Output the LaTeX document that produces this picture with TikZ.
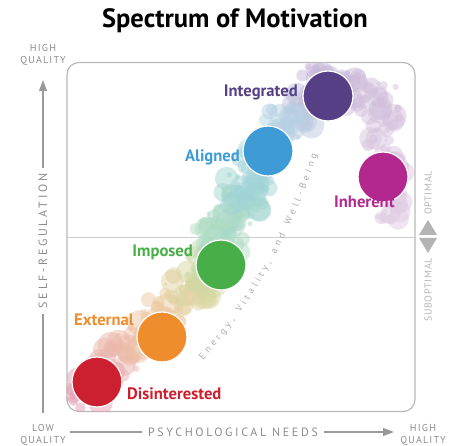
\documentclass[tikz,border=0pt]{standalone}
\usepackage{fontspec}
\setmainfont{PT Sans}
\newfontfamily\axisfont{PT Sans}[LetterSpace=22]
\newfontfamily\qualfont{PT Sans}[LetterSpace=12]
\newfontfamily\optfont{PT Sans}[LetterSpace=7]
\usetikzlibrary{positioning,arrows.meta,decorations.text}

\definecolor{intcol}{HTML}{573F85}
\definecolor{alicol}{HTML}{3E9BD5}
\definecolor{inhcol}{HTML}{B3288F}
\definecolor{impcol}{HTML}{48AE48}
\definecolor{extcol}{HTML}{EF8C2C}
\definecolor{discol}{HTML}{CC1F2F}
\definecolor{bubpink}{HTML}{E596B3}
\definecolor{bubrose}{HTML}{EBB5AE}
\definecolor{bubpeach}{HTML}{EFC9A2}
\definecolor{bubkhaki}{HTML}{D8D8A0}
\definecolor{bubmint}{HTML}{B6DFC0}
\definecolor{bubteal}{HTML}{9ED4D2}
\definecolor{bubsky}{HTML}{B2D8E6}
\definecolor{bublav}{HTML}{C8B8DA}
\definecolor{bubplum}{HTML}{D4C0DC}
\definecolor{bubplumb}{HTML}{DFCCE3}
\definecolor{framegray}{HTML}{B8B8B8}
\definecolor{axisgray}{HTML}{9A9A9A}
\definecolor{textgray}{HTML}{8C8C8C}
\definecolor{optgray}{HTML}{B4B4B4}
\definecolor{curvegray}{HTML}{ABABAB}

\begin{document}
\begin{tikzpicture}[x=1pt,y=-1pt,
  stage/.style={circle,draw=white,line width=1.2pt,minimum size=50pt,inner sep=0pt},
  stagelabel/.style={font=\bfseries\fontsize{16.6}{16.6}\selectfont,inner sep=0pt},
  axislabel/.style={font=\axisfont\fontsize{12}{12}\selectfont,text=textgray,inner ysep=0pt,inner xsep=6pt},
  quality/.style={font=\qualfont\fontsize{10}{12}\selectfont,text=textgray,align=center,inner sep=0pt},
  optlabel/.style={font=\optfont\fontsize{10}{10}\selectfont,text=optgray,inner sep=0pt},
  axisline/.style={draw=axisgray,line width=1.1pt},
  bubble/.style={fill opacity=0.5}]
  \useasboundingbox (0,0) rectangle (460,446);

  \node (title) [font=\bfseries\fontsize{26.5}{26.5}\selectfont] at (235,21) {Spectrum of Motivation};

  \node (frame) [draw=framegray,line width=1.2pt,rounded corners=12pt,
    minimum width=348pt,minimum height=349pt] at (241,237) {};
  \draw[draw=framegray!70,line width=0.8pt] (frame.west) -- (frame.east);

  % bubble cloud
  \pgfmathsetseed{11}
  \begin{scope}
    \clip[rounded corners=12pt] (frame.south west) rectangle (frame.north east);
    \foreach \xa/\ya/\xb/\yb/\ca/\cb/\nb/\sp in {
      74/400/120/362/bubpink/bubrose/60/14,
      115/365/165/320/bubrose/bubpeach/60/16,
      158/322/200/275/bubpeach/bubkhaki/60/17,
      193/288/225/238/bubkhaki/bubmint/55/17,
      214/248/250/185/bubmint/bubteal/80/21,
      245/192/276/132/bubteal/bubsky/60/18,
      274/132/322/84/bubsky/bublav/60/18,
      320/80/382/104/bublav/bubplum/70/18,
      378/112/396/215/bubplum/bubplumb/65/16}{
      \foreach \k in {1,...,\nb}{
        \pgfmathsetmacro\bt{rnd}
        \pgfmathsetmacro\bx{\xa+\bt*(\xb-\xa)+(2*rnd-1)*\sp}
        \pgfmathsetmacro\by{\ya+\bt*(\yb-\ya)+(2*rnd-1)*\sp}
        \pgfmathsetmacro\br{2+11*rnd^1.4}
        \pgfmathtruncatemacro\bm{100*(1-\bt)}
        \fill[bubble,fill=\ca!\bm!\cb] (\bx,\by) circle[radius=\br];
      }
    }
  \end{scope}

  \node (int) [stage,fill=intcol] at (328,96) {};
  \node (ali) [stage,fill=alicol] at (268,151) {};
  \node (inh) [stage,fill=inhcol] at (383,177) {};
  \node (imp) [stage,fill=impcol] at (221,265) {};
  \node (ext) [stage,fill=extcol] at (162,337) {};
  \node (dis) [stage,fill=discol] at (97,382) {};

  \node (intlab) [stagelabel,text=intcol,anchor=base east] at (298,97) {Integrated};
  \node (alilab) [stagelabel,text=alicol,anchor=base east] at (240,162) {Aligned};
  \node (inhlab) [stagelabel,text=inhcol,anchor=base west] at (334,208) {Inherent};
  \node (implab) [stagelabel,text=impcol,anchor=base east] at (193,256) {Imposed};
  \node (extlab) [stagelabel,text=extcol,anchor=base west] at (74,325) {External};
  \node (dislab) [stagelabel,text=discol,anchor=base west] at (127,399) {Disinterested};

  \path[decorate,decoration={text along path,text align={fit to path},
      text color=curvegray,
      text={|\fontsize{9.5}{9.5}\selectfont|Energy, Vitality, and Well-Being}}]
    (203,360) .. controls (265,290) and (300,210) .. (317,155);

  % axes
  \coordinate (ytop) at (43,80);
  \coordinate (ybot) at (43,413);
  \node (selfreg) [axislabel,rotate=90] at (43,241) {SELF-REGULATION};
  \draw[axisline,-{Triangle[length=11pt,width=8pt]}] (selfreg.east) -- (ytop);
  \draw[axisline] (selfreg.west) -- (ybot);

  \coordinate (xleft) at (70,432);
  \coordinate (xright) at (394,432);
  \node (needs) [axislabel] at (233,432) {PSYCHOLOGICAL NEEDS};
  \draw[axisline] (needs.west) -- (xleft);
  \draw[axisline,-{Triangle[length=11pt,width=8pt]}] (needs.east) -- (xright);

  \node (yhigh) [quality] at (43,55) {HIGH\\QUALITY};
  \node (lowq) [quality] at (43,435) {LOW\\QUALITY};
  \node (xhigh) [quality] at (423,435) {HIGH\\QUALITY};

  \node (optimal) [optlabel,rotate=90] at (428,193) {OPTIMAL};
  \node (subopt) [optlabel,rotate=90] at (428,290) {SUBOPTIMAL};
  \fill[optgray] (419,235) -- (428,220) -- (437,235) -- cycle;
  \fill[optgray] (419,238) -- (428,253) -- (437,238) -- cycle;
\end{tikzpicture}
\end{document}
